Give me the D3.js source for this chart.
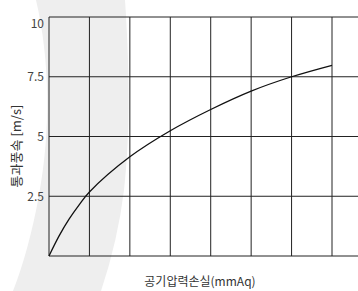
<!DOCTYPE html>
<html>
<head>
<meta charset="utf-8">
<script src="https://cdn.jsdelivr.net/npm/d3@7"></script>
<style>
  html, body { margin: 0; padding: 0; background: #fff; }
  #draw_svg { width: 358px; height: 291px; }
  text { font-family: "Noto Sans CJK KR", "Noto Sans", sans-serif; }
</style>
</head>
<body>
<div id="draw_svg"></div>
<script>
// 그래프 데이터
const pressureSteps = [0, 0.25, 0.5, 0.75, 1, 2, 3, 4, 5, 6, 7];
const velocity = [0, 0.84, 1.55, 2.15, 2.68, 4.15, 5.24, 6.13, 6.9, 7.5, 7.98];
const xGrid = [0, 1, 2, 3, 4, 5, 6, 7];
const yTicks = [2.5, 5, 7.5, 10];
const yTickLabels = ['2.5', '5', '7.5', '10'];

const W = 358, H = 291;
const margin = {left: 49, right: 26, top: 17, bottom: 35};

/**
 * 배경 장식 (회색 띠)
 */
drawBackground = (svg) => {
    svg.append('path')
        .attr('d', 'M36,0 C50,60 51,130 39,195 Q29,250 13,291 L101,291 Q118,240 124,190 C131,130 129,60 125,0 Z')
        .attr('fill', '#eeeeee');
}

/**
 * 차트 그리기
 */
showData = () => {
    const svg = d3.select('svg');
    drawBackground(svg);

    const x = d3.scaleLinear().domain([0, 7]).range([margin.left, W - margin.right]);
    const y = d3.scaleLinear().domain([0, 10]).range([H - margin.bottom, margin.top]);

    const grid = svg.append('g').attr('stroke', '#222').attr('stroke-width', 1);

    // 가로 격자 (오른쪽 끝까지)
    grid.selectAll('line.h')
        .data([0].concat(yTicks))
        .enter()
        .append('line')
        .attr('x1', margin.left)
        .attr('x2', W)
        .attr('y1', (d) => {return y(d);})
        .attr('y2', (d) => {return y(d);});

    // 세로 격자
    grid.selectAll('line.v')
        .data(xGrid)
        .enter()
        .append('line')
        .attr('x1', (d) => {return x(d);})
        .attr('x2', (d) => {return x(d);})
        .attr('y1', y(10))
        .attr('y2', y(0));

    // y축 눈금 글자
    const yAxis = d3.axisLeft(y)
        .tickValues(yTicks)
        .tickFormat((d, i) => {return yTickLabels[i];})
        .tickSize(0)
        .tickPadding(5);

    const ga = svg.append('g')
        .attr('transform', `translate(${margin.left},0)`)
        .call(yAxis);
    ga.select('.domain').remove();
    ga.selectAll('text')
        .attr('fill', '#444')
        .style('font-size', '12px')
        .attr('dy', (d) => {return d === 10 ? '0.85em' : '0.32em';});

    // 곡선
    const line = d3.line()
        .x((d) => {return x(d[0]);})
        .y((d) => {return y(d[1]);})
        .curve(d3.curveCatmullRom.alpha(0.5));

    svg.append('path')
        .datum(pressureSteps.map((p, i) => {return [p, velocity[i]];}))
        .attr('d', line)
        .attr('fill', 'none')
        .attr('stroke', '#111')
        .attr('stroke-width', 1.3);

    // 축 제목
    svg.append('text')
        .attr('x', 200)
        .attr('y', 282)
        .attr('dy', '0.35em')
        .attr('text-anchor', 'middle')
        .attr('fill', '#333')
        .style('font-size', '12px')
        .text('공기압력손실(mmAq)');

    svg.append('text')
        .attr('transform', 'translate(16,146) rotate(-90)')
        .attr('dy', '0.35em')
        .attr('text-anchor', 'middle')
        .attr('fill', '#333')
        .style('font-size', '13px')
        .text('통과풍속 [m/s]');
}

/**
 * 화면 초기화
 */
pageInit = () => {
    d3.select('#draw_svg')
        .append('svg')
        .attr('width', W)
        .attr('height', H);

    showData();
}

window.onload = () => {
    pageInit();
}
</script>
</body>
</html>
